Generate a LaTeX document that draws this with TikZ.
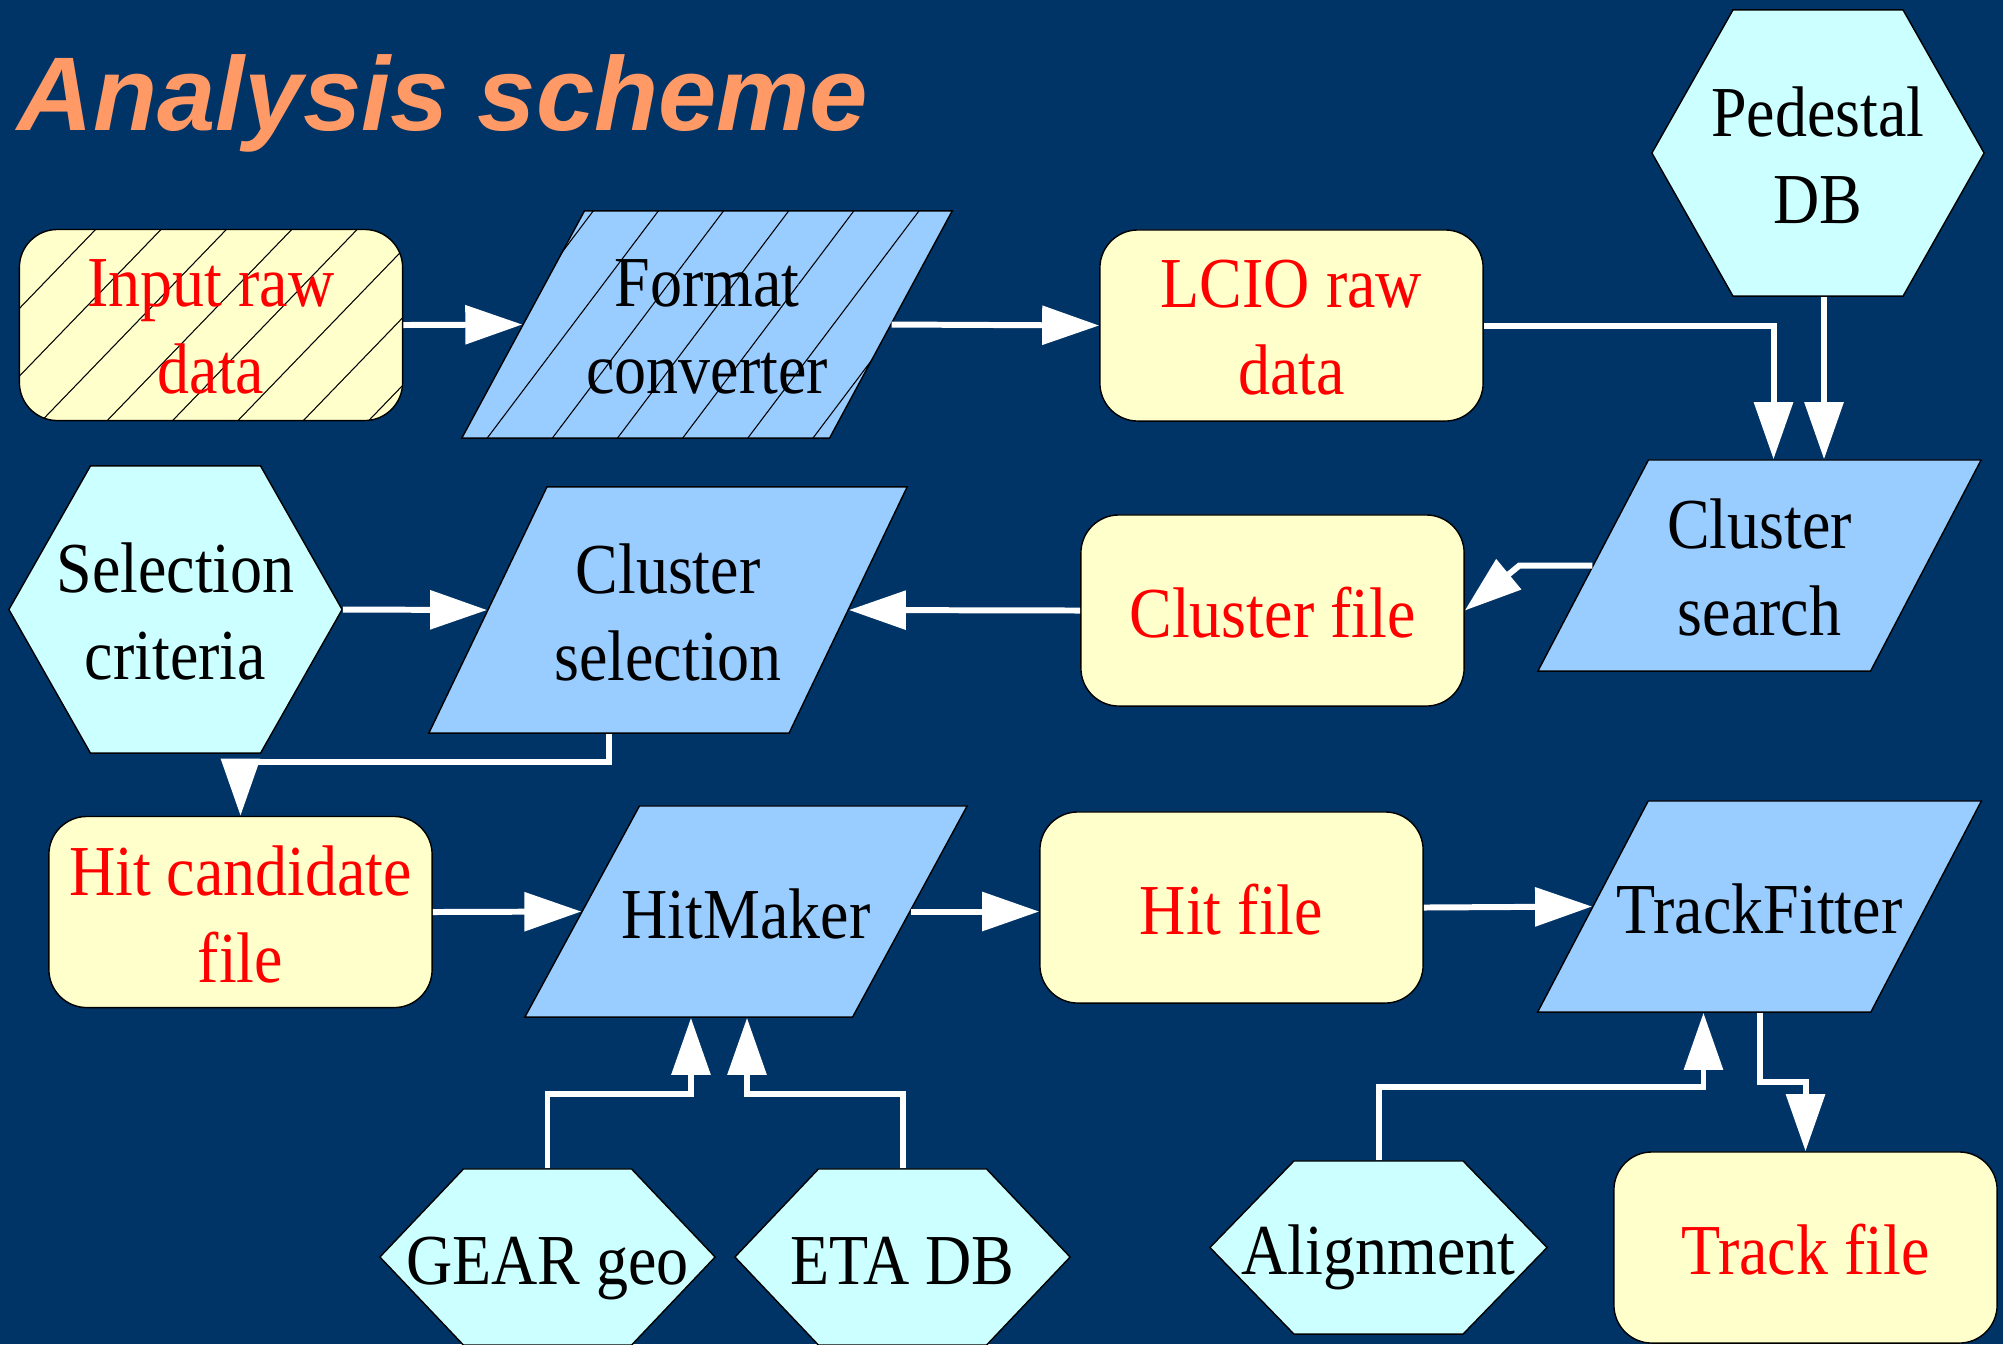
\documentclass[tikz,border=0pt]{standalone}
\usepackage{fontspec}
\setmainfont{Liberation Serif}
\newfontfamily\headfont{Liberation Sans}
\usepackage{tikz}
\usetikzlibrary{shapes.geometric,shapes.symbols,arrows.meta,positioning,calc,patterns.meta}
\usepackage{xcolor}

\definecolor{slide}{RGB}{0,51,102}
\definecolor{filebox}{RGB}{255,255,204}
\definecolor{procbox}{RGB}{153,204,255}
\definecolor{dbbox}{RGB}{204,255,255}
\definecolor{headcol}{RGB}{255,153,102}

\tikzset{
  % two-line and one-line box texts
  txt/.style={inner sep=0pt, align=center, yscale=1.12, yshift=-0.02cm},
  one/.style={inner sep=0pt, yscale=1.12, text height=0.49cm, text depth=0pt},
  file/.style={draw=black, fill=filebox, rounded corners=0.38cm, minimum width=3.83cm,
    minimum height=1.91cm, inner sep=0pt},
  % left angle, right angle, half body width, half height
  proc/.style n args={4}{trapezium, trapezium left angle=#1, trapezium right angle=#2,
    inner xsep=#3, inner ysep=#4, draw=black, fill=procbox},
  % pointer angle, half body width, half height
  db/.style n args={3}{signal, signal to=west and east, signal pointer angle=#1,
    inner xsep=#2, inner ysep=#3, draw=black, fill=dbbox},
  hatch/.style 2 args={postaction={pattern={Lines[angle=#1, distance=#2, line width=0.3pt]},
    pattern color=black}},
  flow/.style={draw=white, line width=1.7pt, -{Triangle[length=0.57cm, width=0.38cm]}}
}

\begin{document}
\begin{tikzpicture}[x=0.01cm, y=-0.01cm, font=\fontsize{18.2}{22.1}\selectfont]
  \useasboundingbox (0,0) rectangle (2003,1344);
  \fill[slide] (0,0) rectangle (2003,1344);

  % Title
  \node[anchor=base west, inner sep=0pt, text=headcol,
    font=\headfont\bfseries\itshape\fontsize{29.8}{32}\selectfont] (head) at (17,130) {Analysis scheme};

  % Data files
  \node[file, hatch={46}{0.47cm}, label={[txt, red]center:Input raw\\data}] (raw) at (211,325) {};
  \node[file, label={[txt, red]center:LCIO raw\\data}] (lcio) at (1291.5,325.5) {};
  \node[file, label={[one, red]center:Cluster file}] (clfile) at (1272.5,610.5) {};
  \node[file, label={[txt, red]center:Hit candidate\\file}] (hitcand) at (240.5,912) {};
  \node[file, label={[one, red]center:Hit file}] (hitfile) at (1231.5,907.5) {};
  \node[file, label={[one, red]center:Track file}] (trkfile) at (1805.5,1247.5) {};

  % Processors
  \node[proc={61.64}{118.36}{1.225cm}{1.135cm}, hatch={53}{0.52cm}, label={[txt]center:Format\\converter}]
    (conv) at (707,324.5) {};
  \node[proc={62.36}{117.64}{1.11cm}{1.055cm}, label={[txt]center:Cluster\\search}]
    (clsearch) at (1759.5,565.5) {};
  \node[proc={64.37}{115.63}{1.21cm}{1.23cm}, label={[txt]center:Cluster\\selection}]
    (clsel) at (668,610) {};
  \node[proc={61.51}{118.49}{1.065cm}{1.055cm}, label={[one]center:HitMaker}]
    (hitmaker) at (746,911.5) {};
  \node[proc={62.36}{117.64}{1.1125cm}{1.055cm}, label={[one]center:TrackFitter}]
    (fitter) at (1759.5,906.5) {};

  % Databases and external inputs
  \node[db={120.93}{0.85cm}{1.43cm}, label={[txt]center:Pedestal\\DB}] (pedestal) at (1818,153) {};
  \node[db={120.8}{0.85cm}{1.435cm}, label={[txt]center:Selection\\criteria}] (selcrit) at (175.5,609.5) {};
  \node[db={93}{0.84cm}{0.88cm}, label={[one]center:GEAR geo}] (gear) at (547.5,1257) {};
  \node[db={93}{0.84cm}{0.88cm}, label={[one]center:ETA DB}] (eta) at (902.5,1257) {};
  \node[db={91.7}{0.845cm}{0.865cm}, label={[one]center:Alignment}] (align) at (1378.5,1247.5) {};

  % Raw data chain
  \draw[flow] (raw.east) -- (conv.west);
  \draw[flow] (conv.east) -- (lcio.west);
  \draw[flow] (lcio.east) -| ([xshift=0.14cm]clsearch.north);
  \draw[flow] ([xshift=0.06cm]pedestal.south) -- ([xshift=0.06cm]pedestal.south |- clsearch.north);

  % Clustering
  \draw[flow] (clsearch.west) -- ++(-73,0) -- (clfile.east);
  \draw[flow] (clfile.west) -- (clsel.east);
  \draw[flow] (selcrit.east) -- (clsel.west);
  \draw[flow] ([xshift=-0.59cm]clsel.south) |- ($(hitcand.north)+(0,-54)$) -- (hitcand.north);

  % Hits and tracks
  \draw[flow] (hitcand.east) -- (hitmaker.west);
  \draw[flow] (hitmaker.east) -- (hitmaker.east -| hitfile.west);
  \draw[flow] (hitfile.east) -- (fitter.west);
  \draw[flow] (fitter.south) |- ($(trkfile.north)+(0,-69)$) -- (trkfile.north);
  \draw[flow] (gear.north) |- ([xshift=-0.55cm,yshift=-0.76cm]hitmaker.south) -- ([xshift=-0.55cm]hitmaker.south);
  \draw[flow] (eta.north) |- ([xshift=0.01cm,yshift=-0.76cm]hitmaker.south) -- ([xshift=0.01cm]hitmaker.south);
  \draw[flow] (align.north) |- ([xshift=-0.56cm,yshift=-0.74cm]fitter.south) -- ([xshift=-0.56cm]fitter.south);
\end{tikzpicture}
\end{document}
